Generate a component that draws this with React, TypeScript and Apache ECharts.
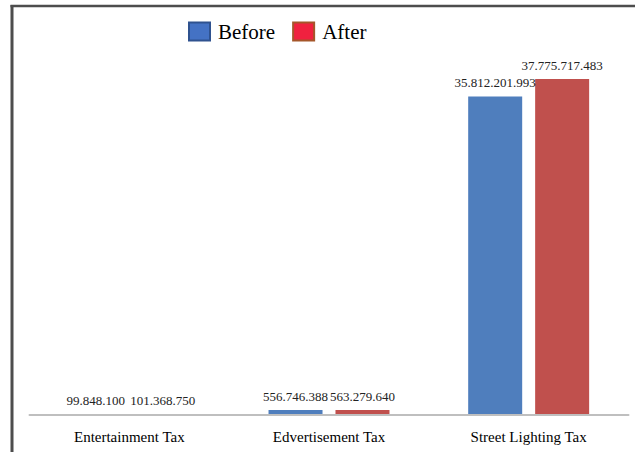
import React, { useEffect, useRef } from "react";
import * as echarts from "echarts";

const categories = ["Entertainment Tax", "Edvertisement Tax", "Street Lighting Tax"];
const beforeValues = [99848100, 556746388, 35812201993];
const afterValues = [101368750, 563279640, 37775717483];
const seriesNames = ["Before", "After"];

const fmt = (v: number) => String(Math.round(v)).replace(/\B(?=(\d{3})+(?!\d))/g, ".");

export default function App() {
  const ref = useRef<HTMLDivElement>(null);
  useEffect(() => {
    document.body.style.margin = "0";
    const chart = echarts.init(ref.current!, null, { renderer: "svg" });
    const serif = "Liberation Serif";
    const labelCfg = {
      show: true,
      position: "top" as const,
      distance: 7,
      fontSize: 13,
      fontFamily: serif,
      color: "#222",
      formatter: (p: any) => fmt(p.value),
    };
    chart.setOption({
      animation: false,
      backgroundColor: "#fff",
      graphic: [
        { type: "line", shape: { x1: 12, y1: 5, x2: 12, y2: 452 }, style: { stroke: "#4d4d4d", lineWidth: 3 } },
        { type: "line", shape: { x1: 10.5, y1: 6, x2: 635, y2: 6 }, style: { stroke: "#4d4d4d", lineWidth: 2.5 } },
      ],
      legend: {
        left: 183,
        top: 16,
        icon: "rect",
        itemWidth: 21,
        itemHeight: 18,
        itemGap: 17,
        textStyle: { fontSize: 21, fontFamily: serif, color: "#000", padding: [0, 0, 0, 3] },
        data: [
          { name: seriesNames[0], itemStyle: { color: "#4472C4", borderColor: "#2F528F", borderWidth: 2 } },
          { name: seriesNames[1], itemStyle: { color: "#F0213F", borderColor: "#A5562A", borderWidth: 2 } },
        ],
      },
      grid: { left: 29.5, right: 6.5, top: 59.2, bottom: 37, containLabel: false },
      xAxis: {
        type: "category",
        data: categories,
        z: 5,
        axisLine: { lineStyle: { color: "#BFBFBF", width: 2 } },
        axisTick: { show: false },
        axisLabel: { fontSize: 15, fontFamily: serif, color: "#000", margin: 14 },
      },
      yAxis: {
        type: "value",
        min: 0,
        max: 40000000000,
        show: false,
        splitLine: { show: false },
      },
      series: [
        {
          name: seriesNames[0],
          type: "bar",
          data: beforeValues,
          barWidth: 54,
          barGap: "24%",
          itemStyle: { color: "#4F7EBD" },
          label: labelCfg,
        },
        {
          name: seriesNames[1],
          type: "bar",
          data: afterValues,
          barWidth: 54,
          barGap: "24%",
          itemStyle: { color: "#C0504D" },
          label: labelCfg,
        },
      ],
    });
    return () => chart.dispose();
  }, []);
  return <div ref={ref} style={{ width: 635, height: 452 }} />;
}
